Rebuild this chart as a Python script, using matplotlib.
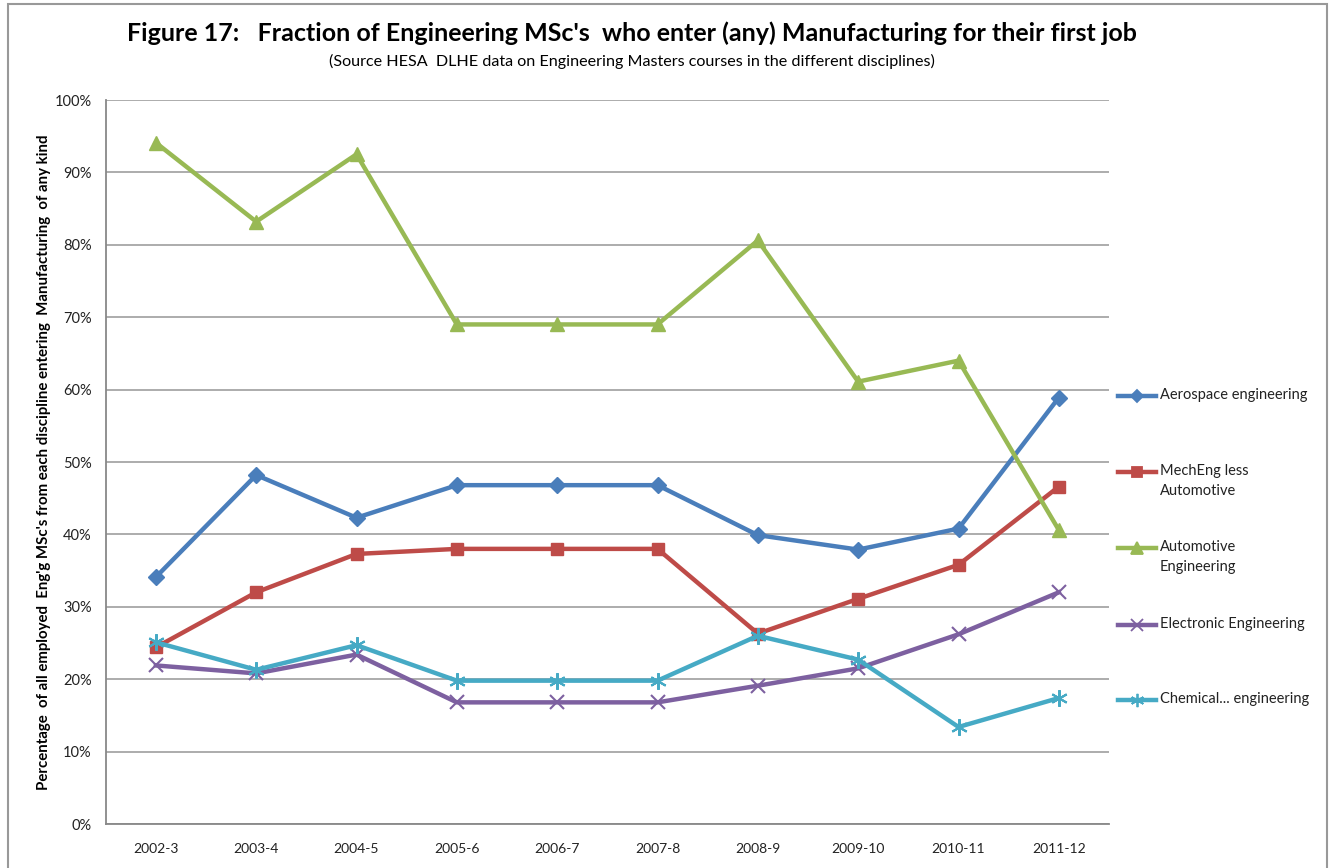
import matplotlib
matplotlib.use("Agg")
import matplotlib.pyplot as plt
from matplotlib.lines import Line2D
from matplotlib.ticker import PercentFormatter

plt.rcParams['font.family'] = ['Lato', 'DejaVu Sans']

# %% data (percent)
years = ["2002-3", "2003-4", "2004-5", "2005-6", "2006-7",
         "2007-8", "2008-9", "2009-10", "2010-11", "2011-12"]
aerospace = [34.1, 48.2, 42.3, 46.8, 46.8, 46.8, 39.9, 37.9, 40.8, 58.9]
mecheng = [24.4, 32.0, 37.3, 38.0, 38.0, 38.0, 26.3, 31.1, 35.8, 46.6]
automotive = [94.1, 83.2, 92.5, 69.0, 69.0, 69.0, 80.6, 61.1, 64.0, 40.6]
electronic = [21.9, 20.8, 23.4, 16.8, 16.8, 16.8, 19.1, 21.5, 26.2, 32.0]
chemical = [25.1, 21.3, 24.7, 19.8, 19.8, 19.8, 26.0, 22.7, 13.4, 17.4]

series = [
    ("Aerospace engineering", aerospace, "#4A7EBB", "D", 8),
    ("MechEng less\nAutomotive", mecheng, "#BE4B48", "s", 9),
    ("Automotive\nEngineering", automotive, "#98B954", "^", 10),
    ("Electronic Engineering", electronic, "#7D60A0", "x", 10),
    ("Chemical... engineering", chemical, "#46AAC5", (6, 2, 0), 12),
]

# %% plot
W, H = 1335, 868
fig = plt.figure(figsize=(W / 100, H / 100), dpi=100)
ax = fig.add_axes([105.7 / W, 1 - 824 / H, (1109 - 105.7) / W, (824 - 100) / H])

x = range(len(years))
for label, vals, col, mk, ms in series:
    ax.plot(x, vals, color=col, lw=3.2, marker=mk, markersize=ms,
            markeredgewidth=1.5 if mk in ("x",) or isinstance(mk, tuple) else 1,
            markeredgecolor=col, markerfacecolor=col, zorder=3)

ax.set_xlim(-0.5, len(years) - 0.5)
ax.set_ylim(0, 100)
ax.set_xticks(list(x))
ax.set_xticklabels(years)
ax.set_yticks(range(0, 101, 10))
ax.yaxis.set_major_formatter(PercentFormatter(decimals=0))
ax.tick_params(length=0, labelsize=10.5, colors="#222222", pad=10)
ax.tick_params(axis="x", labelsize=10, pad=14)
ax.grid(axis="y", color="#A6A6A6", lw=1.3)
ax.set_axisbelow(True)
for s in ("top", "right"):
    ax.spines[s].set_visible(False)
for s in ("left", "bottom"):
    ax.spines[s].set_color("#888888")
    ax.spines[s].set_linewidth(1.3)

ax.set_ylabel("Percentage  of all employed  Eng'g MSc's from each discipline entering  Manufacturing  of any kind",
              fontsize=10.8, fontweight="bold", labelpad=3)

fig.text(632 / W, 1 - 33 / H,
         "Figure 17:   Fraction of Engineering MSc's  who enter (any) Manufacturing for their first job",
         ha="center", va="center", fontsize=18, fontweight="bold")
fig.text(632 / W, 1 - 61 / H,
         "(Source HESA  DLHE data on Engineering Masters courses in the different disciplines)",
         ha="center", va="center", fontsize=11.6)

# legend drawn by hand, Excel-style: handle aligned with first text line
leg_y = [396, 472, 548, 625, 700]
for (label, vals, col, mk, ms), yy in zip(series, leg_y):
    fy = 1 - yy / H
    fig.add_artist(Line2D([1118 / W, 1156 / W], [fy, fy], color=col, lw=3.2,
                          transform=fig.transFigure))
    fig.add_artist(Line2D([1137 / W], [fy], color=col, marker=mk, markersize=ms * 0.8,
                          markeredgecolor=col, markerfacecolor=col,
                          markeredgewidth=1.3, transform=fig.transFigure))
    fig.text(1160 / W, fy + 8 / H, label, ha="left", va="top", fontsize=10.5,
             linespacing=1.55, color="#222222")

# outer chart border
fig.add_artist(plt.Rectangle((8 / W, -0.01), (1327 - 8) / W, 1 - 4 / H + 0.01,
                             transform=fig.transFigure, fill=False,
                             edgecolor="#999999", lw=1.5))

fig.savefig("out.png", dpi=100)
